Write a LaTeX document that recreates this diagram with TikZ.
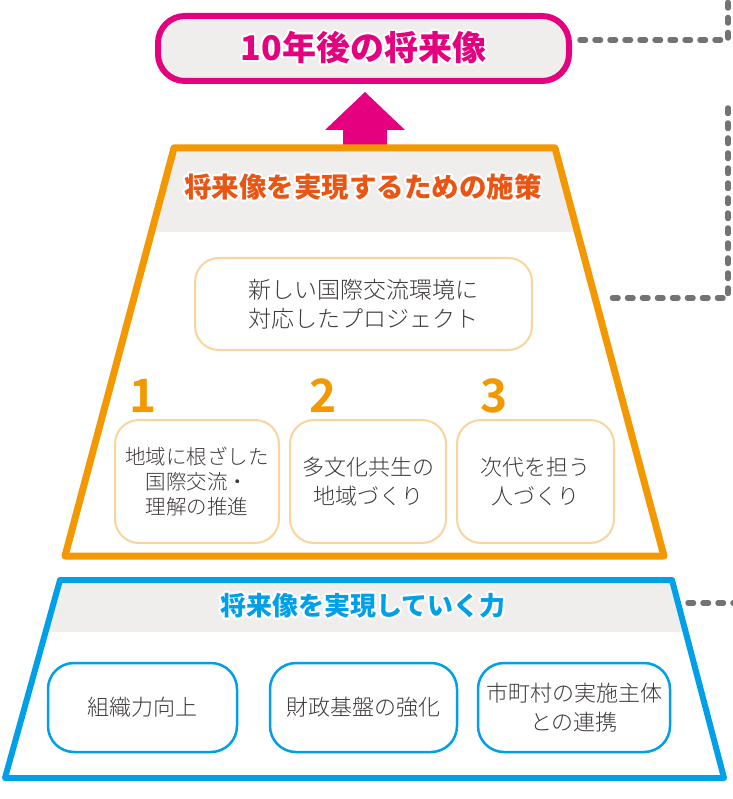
\documentclass[tikz,border=0pt]{standalone}
\usepackage{fontspec}
\usepackage{contour}
\newfontfamily\jp{Noto Sans CJK JP}
\newfontfamily\jpl{Noto Sans CJK JP Light}
\newfontfamily\jpb{Noto Sans CJK JP Black}
\newfontfamily\jpbold{Noto Sans CJK JP Bold}
\contourlength{2pt}
\contournumber{24}
\definecolor{mag}{HTML}{E4007F}
\definecolor{org}{HTML}{F39800}
\definecolor{orgtxt}{HTML}{EA5514}
\definecolor{blu}{HTML}{00A0E9}
\definecolor{band}{HTML}{EFEEEC}
\definecolor{lorg}{HTML}{FAD49C}
\definecolor{txt}{HTML}{3E3A39}
\definecolor{dgray}{HTML}{737373}
\begin{document}
\begin{tikzpicture}[x=1pt,y=-1pt,
  dashline/.style={draw=dgray,line width=5.5pt,line cap=round,dash pattern=on 5.5pt off 9.5pt},
  titlebox/.style={draw=mag,line width=6pt,fill=band,rounded corners=27pt,minimum width=411pt,minimum height=65pt,inner sep=0pt},
  obox/.style={draw=lorg,line width=2pt,fill=white,rounded corners=24pt,inner sep=0pt,align=center,text=txt,font=\jpl\fontsize{20.5}{25}\selectfont},
  bbox/.style={draw=blu,line width=2.5pt,fill=white,rounded corners=26pt,inner sep=0pt,align=center,text=txt,font=\jpl\fontsize{22}{29}\selectfont,minimum height=89pt},
  numlbl/.style={text=org,font=\jpbold\fontsize{46}{46}\selectfont,inner sep=0pt},
  trap/.style={line width=7pt,line join=round}
]
\useasboundingbox (0,0) rectangle (732,799);

% top title box
\node[titlebox] (top) at (363.5,48.5) {\jpb\fontsize{34}{34}\selectfont\color{mag}\contour{white}{10年後の将来像}};

% arrow
\fill[mag] (365,92) -- (405,130) -- (387,130) -- (387,147) -- (343,147) -- (343,130) -- (325,130) -- cycle;

% orange trapezoid
\coordinate (o1) at (174,148);
\coordinate (o2) at (555,148);
\coordinate (o3) at (664,556);
\coordinate (o4) at (65,556);
\fill[white] (o1) -- (o2) -- (o3) -- (o4) -- cycle;
\begin{scope}
\clip (o1) -- (o2) -- (o3) -- (o4) -- cycle;
\fill[band] (0,140) rectangle (732,232);
\end{scope}
\draw[trap,draw=org] (o1) -- (o2) -- (o3) -- (o4) -- cycle;
\node[inner sep=0pt] (otitle) at (363,188) {\jpb\fontsize{27.5}{27.5}\selectfont\color{orgtxt}\contour{white}{将来像を実現するための施策}};

\node[obox,minimum width=337pt,minimum height=92pt,font=\jpl\fontsize{23}{29}\selectfont] (nb) at (363.5,304) {新しい国際交流環境に\\対応したプロジェクト};

\node[numlbl] (n1) at (143,396) {1};
\node[numlbl] (n2) at (323,396) {2};
\node[numlbl] (n3) at (494,396) {3};

\node[obox,minimum width=164pt,minimum height=123pt] (b1) at (197,481.5) {地域に根ざした\\国際交流・\\理解の推進};
\node[obox,minimum width=156pt,minimum height=123pt,font=\jpl\fontsize{22}{29}\selectfont] (b2) at (368,481.5) {多文化共生の\\地域づくり};
\node[obox,minimum width=157pt,minimum height=123pt,font=\jpl\fontsize{22}{29}\selectfont] (b3) at (535.5,481.5) {次代を担う\\人づくり};

% blue trapezoid
\coordinate (u1) at (60,580);
\coordinate (u2) at (672,580);
\coordinate (u3) at (724,778);
\coordinate (u4) at (5,778);
\fill[white] (u1) -- (u2) -- (u3) -- (u4) -- cycle;
\begin{scope}
\clip (u1) -- (u2) -- (u3) -- (u4) -- cycle;
\fill[band] (0,570) rectangle (732,632);
\end{scope}
\draw[trap,line width=6pt,draw=blu] (u1) -- (u2) -- (u3) -- (u4) -- cycle;
\node[inner sep=0pt] (utitle) at (363,607) {\jpb\fontsize{26}{26}\selectfont\color{blu}\contour{white}{将来像を実現していく力}};

\node[bbox,minimum width=189pt] (c1) at (142.5,707.5) {組織力向上};
\node[bbox,minimum width=187pt] (c2) at (363.5,707.5) {財政基盤の強化};
\node[bbox,minimum width=192pt] (c3) at (574,707.5) {市町村の実施主体\\との連携};

% dashed connectors
\coordinate (d1s) at (580,40);
\coordinate (d1a) at (728,40);
\coordinate (d1b) at (728,-4);
\draw[dashline] (d1s) -- (d1a) -- (d1b);
\coordinate (d2s) at (728,108);
\coordinate (d2a) at (728,298);
\coordinate (d2b) at (604,298);
\draw[dashline] (d2s) -- (d2a) -- (d2b);
\coordinate (d3s) at (688,603);
\coordinate (d3e) at (736,603);
\draw[dashline] (d3s) -- (d3e);
\end{tikzpicture}
\end{document}
